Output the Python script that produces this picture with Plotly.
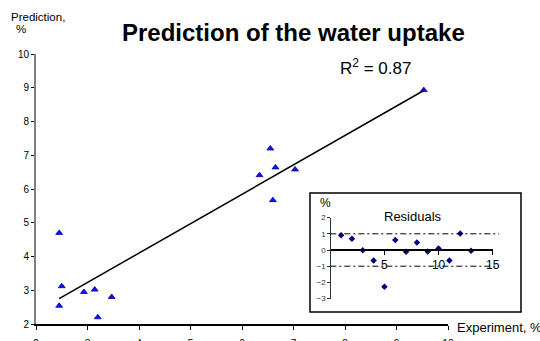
import numpy as np
import plotly.graph_objects as go

# ---- data ----
experiment = [2.45, 2.50, 2.45, 2.93, 3.14, 3.47, 3.20, 6.34, 6.55, 6.65, 6.60, 7.03, 9.53]
prediction = [4.70, 3.12, 2.54, 2.95, 3.02, 2.80, 2.20, 6.41, 7.20, 6.64, 5.67, 6.58, 8.93]
residual_index = [1, 2, 3, 4, 5, 6, 7, 8, 9, 10, 11, 12, 13]
residuals = [0.91, 0.69, -0.02, -0.65, -2.27, 0.62, -0.11, 0.46, -0.09, 0.10, -0.65, 1.02, -0.04]
main_ticks = [2, 3, 4, 5, 6, 7, 8, 9, 10]
inset_xticks = [5, 10, 15]
inset_yticks = [2, 1, 0, -1, -2, -3]
r2_text = "R<sup>2</sup> = 0.87"

# ---- layout geometry (pixels) ----
W, H = 540, 341
L, R, T, B = 36, 15, 54, 17
PW = W - L - R
PH = H - T - B

def px(x):
    return (x - L) / PW

def py(y):
    return (H - B - y) / PH

slope, intercept = np.polyfit(experiment, prediction, 1)
xl = np.array([min(experiment), max(experiment)])
yl = slope * xl + intercept

fig = go.Figure()
fig.add_trace(go.Scatter(x=experiment, y=prediction, mode="markers",
                         marker=dict(symbol="triangle-up", size=6, color="#1010ff",
                                     line=dict(color="#0000a0", width=0.8)),
                         showlegend=False, hoverinfo="skip"))
fig.add_trace(go.Scatter(x=xl, y=yl, mode="lines", line=dict(color="black", width=1.5),
                         showlegend=False, hoverinfo="skip"))
fig.add_trace(go.Scatter(x=residual_index, y=residuals, mode="markers", xaxis="x2", yaxis="y2",
                         marker=dict(symbol="diamond", size=5, color="#000080"),
                         showlegend=False, hoverinfo="skip"))

font = "Arial, Liberation Sans, sans-serif"

fig.update_layout(
    width=W, height=H,
    margin=dict(l=L, r=R, t=T, b=B, pad=0, autoexpand=False),
    paper_bgcolor="white", plot_bgcolor="white",
    font=dict(family=font, color="black"),
    xaxis=dict(domain=[0, px(448)], range=[2, 10], tickvals=main_ticks, automargin=False,
               showgrid=False, zeroline=False, showline=True, linecolor="black", linewidth=1.5,
               ticks="outside", ticklen=4, tickcolor="black", tickfont=dict(size=10),
               ticklabelstandoff=5, anchor="y"),
    yaxis=dict(domain=[0, 1], range=[2, 10], tickvals=main_ticks, automargin=False,
               showgrid=False, zeroline=False, showline=True, linecolor="#808080", linewidth=2,
               ticks="outside", ticklen=3, tickcolor="black", tickfont=dict(size=10),
               anchor="x"),
    xaxis2=dict(domain=[px(330.3), px(492.7)], range=[0, 15], tickvals=inset_xticks,
                anchor="free", position=py(250), automargin=False,
                showgrid=False, zeroline=False, showline=True, linecolor="black", linewidth=1.5,
                ticks="outside", ticklen=4, tickcolor="black", tickfont=dict(size=12)),
    yaxis2=dict(domain=[py(298.6), py(217.6)], range=[-3, 2], tickvals=inset_yticks,
                anchor="free", position=px(330.3), automargin=False,
                showgrid=False, zeroline=False, showline=True, linecolor="#333333", linewidth=1.2,
                ticks="outside", ticklen=3, tickcolor="#333333", tickfont=dict(size=8, color="#333333")),
)

shapes = [
    dict(type="rect", xref="paper", yref="paper", x0=px(310), x1=px(521), y0=py(312), y1=py(193),
         line=dict(color="black", width=1.5), fillcolor="white", layer="below"),
]
for yv in (1, -1):
    shapes.append(dict(type="line", xref="paper", yref="y2", x0=px(330.3), x1=px(499), y0=yv, y1=yv,
                       line=dict(color="black", width=1, dash="6px,3px,2px,3px")))
fig.update_layout(shapes=shapes)

ann = [
    dict(text="<b>Prediction of the water uptake</b>", x=px(293), y=py(32), font=dict(size=24)),
    dict(text="Prediction,", x=px(38), y=py(17), font=dict(size=11.5)),
    dict(text="%", x=px(20.5), y=py(29), font=dict(size=11.5)),
    dict(text=r2_text, x=px(375), y=py(67), font=dict(size=17)),
    dict(text="Experiment, %", x=px(499), y=py(327), font=dict(size=13)),
    dict(text="%", x=px(325), y=py(203), font=dict(size=12)),
    dict(text="Residuals", x=px(413), y=py(216), font=dict(size=13)),
]
for a in ann:
    a.update(xref="paper", yref="paper", showarrow=False, xanchor="center", yanchor="middle")
fig.update_layout(annotations=ann)

fig.write_html("out.html", config={"displayModeBar": False},
               post_script="document.body.style.margin='0';document.body.style.overflow='hidden';")
